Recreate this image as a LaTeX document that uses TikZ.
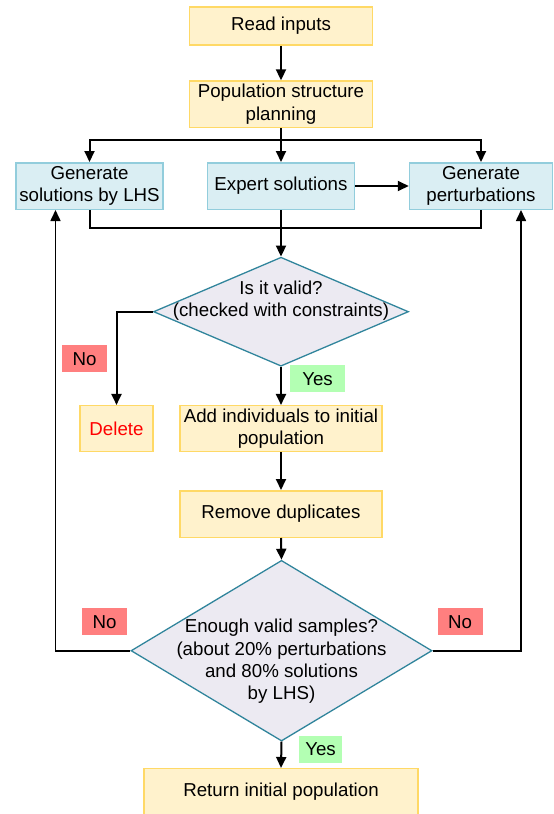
\documentclass[tikz,border=0pt]{standalone}
\usepackage{fontspec}
\setmainfont{Liberation Sans}
\usetikzlibrary{shapes.geometric,arrows.meta}
\definecolor{yfill}{HTML}{FFF2CC}
\definecolor{yline}{HTML}{FFD966}
\definecolor{bfill}{HTML}{DAEEF3}
\definecolor{bline}{HTML}{92CDDC}
\definecolor{dfill}{HTML}{ECEAF2}
\definecolor{dline}{HTML}{31859C}
\definecolor{nofill}{HTML}{FF7F7F}
\definecolor{yesfill}{HTML}{B3FFB3}
\tikzset{
  ybox/.style={draw=yline, fill=yfill, line width=1.5pt, inner sep=0pt, align=center},
  bbox/.style={draw=bline, fill=bfill, line width=1.5pt, inner sep=0pt, align=center},
  dia/.style={diamond, draw=dline, fill=dfill, line width=1.3pt, inner sep=0pt},
  nolab/.style={fill=nofill, inner sep=0pt, minimum width=45pt, minimum height=27pt},
  yeslab/.style={fill=yesfill, inner sep=0pt, minimum height=27pt},
  arr/.style={line width=2pt, -{Triangle[length=11pt,width=10pt]}},
  conn/.style={line width=2pt},
  loopc/.style={line width=1.6pt, -{Triangle[length=11pt,width=10pt]}},
  loopl/.style={line width=1.6pt}
}
\begin{document}
\begin{tikzpicture}[x=1pt,y=-1pt,font=\fontsize{18.7}{22.3}\selectfont]
\useasboundingbox (0,0) rectangle (554,814);
% boxes
\node[ybox, minimum width=183pt, minimum height=38pt] (read) at (281,26) {Read inputs};
\node[ybox, minimum width=183pt, minimum height=46.5pt] (pop) at (281,104.3) {Population structure\\planning};
\node[bbox, minimum width=147pt, minimum height=46.5pt] (lhs) at (89.5,186) {Generate\\solutions by LHS};
\node[bbox, minimum width=147pt, minimum height=46.5pt] (exp) at (281,186) {Expert solutions};
\node[bbox, minimum width=143pt, minimum height=46.5pt] (pert) at (481,186) {Generate\\perturbations};
\node[dia, minimum width=255pt, minimum height=109pt] (d1) at (281,311.7) {};
\node[align=center] (d1t) at (281,301) {Is it valid?\\(checked with constraints)};
\node[ybox, minimum width=73pt, minimum height=46pt, text=red] (del) at (116.5,428.7) {Delete};
\node[ybox, minimum width=202pt, minimum height=46pt] (add) at (281,428.7) {Add individuals to initial\\population};
\node[ybox, minimum width=202pt, minimum height=46.5pt] (rem) at (281,514) {Remove duplicates};
\node[dia, minimum width=301pt, minimum height=180.7pt] (d2) at (281.5,650.7) {};
\node[align=center] (d2t) at (281.5,661.5) {Enough valid samples?\\(about 20\% perturbations\\and 80\% solutions\\by LHS)};
\node[ybox, minimum width=274pt, minimum height=46pt] (ret) at (281,791.7) {Return initial population};
% labels
\node[nolab] (no1) at (84.5,358.8) {No};
\node[yeslab, minimum width=55pt] (yes1) at (317.5,378.8) {Yes};
\node[nolab] (no2) at (104.5,621.7) {No};
\node[nolab] (no3) at (460,621.7) {No};
\node[yeslab, minimum width=43pt] (yes2) at (320.5,749.3) {Yes};
% coordinates
\coordinate (split) at (281,140);
\coordinate (merge) at (281,228.3);
\coordinate (lc) at (55.5,650.7);
\coordinate (rc) at (521,650.7);
% connectors
\draw[arr] (read) -- (pop);
\draw[arr] (pop) -- (exp);
\draw[arr] (split) -| (lhs.north);
\draw[arr] (split) -| (pert.north);
\draw[arr] (exp) -- (pert);
\draw[conn] (lhs.south) |- (merge) -| (pert.south);
\draw[arr] (exp.south) -- (d1.north);
\draw[arr] (d1.west) -| (del.north);
\draw[arr] (d1.south) -- (add.north);
\draw[arr] (add) -- (rem);
\draw[arr] (rem.south) -- (d2.north);
\draw[arr] (d2.south) -- (ret.north);
\draw[loopc] (d2.west) -- (lc) -- (lc |- lhs.south);
\draw[loopc] (d2.east) -- (rc) -- (rc |- pert.south);
\end{tikzpicture}
\end{document}
